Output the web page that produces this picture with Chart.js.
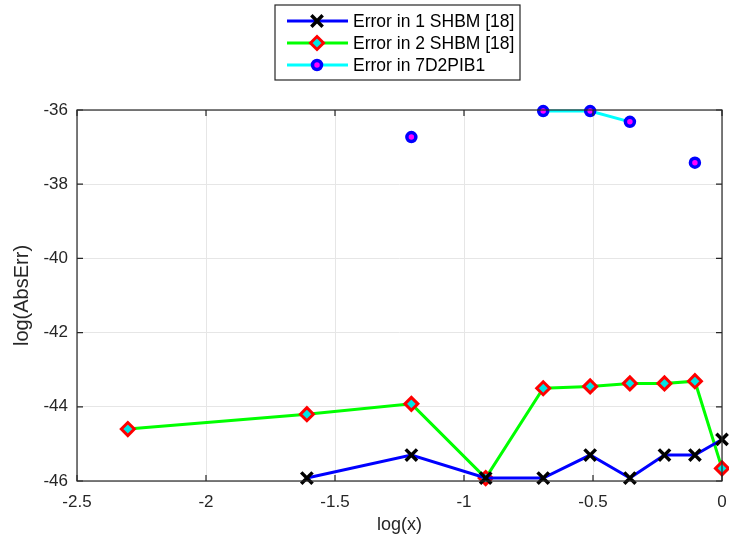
<!DOCTYPE html>
<html lang="en">
<head>
  <meta charset="UTF-8">
  <title>AbsErr</title>
  <style>
    body { margin: 0; background: #fff; }
    #wrap { width: 729px; height: 544px; }
  </style>
</head>
<body>
  <div id="wrap"><canvas id="err-chart"></canvas></div>
  <script src="https://cdn.jsdelivr.net/npm/chart.js@4.4.9/dist/chart.umd.min.js"></script>
  <script>
    // log(x) for x = 0.1 ... 1.0
    const logX = [-2.303, -1.609, -1.204, -0.916, -0.693, -0.511, -0.357, -0.223, -0.105, 0]
    const err1Shbm = [null, -45.92, -45.3, -45.92, -45.92, -45.3, -45.92, -45.3, -45.3, -44.88]
    const err2Shbm = [-44.6, -44.2, -43.92, -45.92, -43.5, -43.45, -43.37, -43.37, -43.31, -45.66]
    const err7d2pib1 = [null, null, -36.73, null, -36.03, -36.03, -36.32, null, -37.42, null]
    const seriesNames = ['Error in 1 SHBM [18]', 'Error in 2 SHBM [18]', 'Error in 7D2PIB1']
    const xTicks = [-2.5, -2, -1.5, -1, -0.5, 0]
    const yTicks = [-46, -44, -42, -40, -38, -36]

    const FONT = 'Liberation Sans, Arial, Helvetica, sans-serif'

    const toPoints = ys => logX.map((x, i) => ({ x, y: ys[i] }))

    const styles = [
      { line: '#0000ff', pointStyle: 'crossRot', fill: '#000000', border: '#000000', r: 8, bw: 3.5 },
      { line: '#00ff00', pointStyle: 'rectRot', fill: '#00e5e5', border: '#ff0000', r: 6.5, bw: 3 },
      { line: '#00ffff', pointStyle: 'circle', fill: '#ff00ff', border: '#0000ff', r: 4.5, bw: 3.5 },
    ]

    // box, inward ticks and the boxed legend (MATLAB look)
    const frame = {
      id: 'frame',
      afterDatasetsDraw(chart) {
        const { ctx, chartArea: a, scales } = chart
        ctx.save()
        ctx.strokeStyle = '#262626'
        ctx.lineWidth = 1.2
        ctx.strokeRect(a.left, a.top, a.right - a.left, a.bottom - a.top)
        ctx.beginPath()
        xTicks.forEach(t => {
          const px = scales.x.getPixelForValue(t)
          ctx.moveTo(px, a.bottom); ctx.lineTo(px, a.bottom - 6)
          ctx.moveTo(px, a.top); ctx.lineTo(px, a.top + 6)
        })
        yTicks.forEach(t => {
          const py = scales.y.getPixelForValue(t)
          ctx.moveTo(a.left, py); ctx.lineTo(a.left + 6, py)
          ctx.moveTo(a.right, py); ctx.lineTo(a.right - 6, py)
        })
        ctx.stroke()
        ctx.restore()
      },
      afterDraw(chart) {
        const { ctx } = chart
        const box = { x: 275, y: 5, w: 245, h: 75 }
        ctx.save()
        ctx.fillStyle = '#fff'
        ctx.fillRect(box.x, box.y, box.w, box.h)
        ctx.strokeStyle = '#262626'
        ctx.lineWidth = 1.2
        ctx.strokeRect(box.x, box.y, box.w, box.h)
        seriesNames.forEach((name, i) => {
          const s = styles[i]
          const cy = box.y + 16 + i * 22
          ctx.strokeStyle = s.line
          ctx.lineWidth = 3
          ctx.beginPath()
          ctx.moveTo(box.x + 12, cy)
          ctx.lineTo(box.x + 73, cy)
          ctx.stroke()
          ctx.fillStyle = s.fill
          ctx.strokeStyle = s.border
          ctx.lineWidth = s.bw
          Chart.helpers.drawPoint(ctx, { pointStyle: s.pointStyle, radius: s.r, borderWidth: s.bw }, box.x + 42, cy)
          ctx.fillStyle = '#000'
          ctx.font = '17.5px ' + FONT
          ctx.textBaseline = 'middle'
          ctx.fillText(name, box.x + 78, cy + 1)
        })
        ctx.restore()
      }
    }

    new Chart(document.getElementById('err-chart'), {
      type: 'line',
      data: {
        datasets: [err1Shbm, err2Shbm, err7d2pib1].map((ys, i) => ({
          label: seriesNames[i],
          data: toPoints(ys),
          borderColor: styles[i].line,
          borderWidth: 3,
          pointStyle: styles[i].pointStyle,
          pointRadius: styles[i].r,
          pointBorderWidth: styles[i].bw,
          pointBackgroundColor: styles[i].fill,
          pointBorderColor: styles[i].border,
          spanGaps: false,
          tension: 0,
          clip: false,
        }))
      },
      plugins: [frame],
      options: {
        responsive: true,
        maintainAspectRatio: false,
        animation: false,
        layout: { autoPadding: false, padding: { top: 110, right: 7, left: 0, bottom: 0 } },
        plugins: { legend: { display: false }, tooltip: { enabled: false } },
        scales: {
          x: {
            type: 'linear',
            min: -2.5,
            max: 0,
            afterBuildTicks: s => { s.ticks = xTicks.map(v => ({ value: v })) },
            afterFit: s => { s.height = 63; s.paddingLeft = 0; s.paddingRight = 0 },
            grid: { color: '#e6e6e6', lineWidth: 1, drawTicks: false },
            border: { display: false },
            ticks: { color: '#262626', font: { family: FONT, size: 17 }, padding: 11, maxRotation: 0, callback: v => String(v) },
            title: { display: true, text: 'log(x)', color: '#262626', font: { family: FONT, size: 18 }, padding: { top: 8, bottom: 8 } },
          },
          y: {
            type: 'linear',
            min: -46,
            max: -36,
            afterBuildTicks: s => { s.ticks = yTicks.map(v => ({ value: v })) },
            afterFit: s => { s.width = 77; s.paddingTop = 0; s.paddingBottom = 0 },
            grid: { color: '#e6e6e6', lineWidth: 1, drawTicks: false },
            border: { display: false },
            ticks: { color: '#262626', font: { family: FONT, size: 17 }, padding: 9, callback: v => String(v) },
            title: { display: true, text: 'log(AbsErr)', color: '#262626', font: { family: FONT, size: 20 }, padding: { top: 10, bottom: 10 } },
          }
        }
      }
    })
  </script>
</body>
</html>
